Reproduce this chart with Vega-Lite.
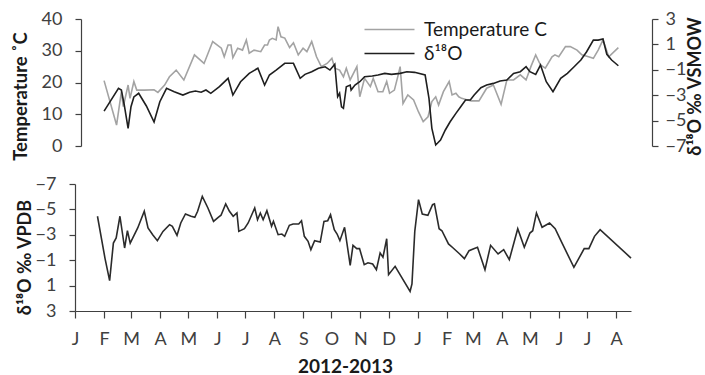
{
  "$schema": "https://vega.github.io/schema/vega-lite/v6.json",
  "autosize": "none",
  "width": 577,
  "height": 292,
  "padding": {"left": 75, "top": 19, "right": 53, "bottom": 64},
  "config": {
    "font": "Lato",
    "view": {"stroke": null},
    "axis": {
      "grid": false,
      "domainColor": "#404040",
      "tickColor": "#404040",
      "domainWidth": 1.2,
      "tickWidth": 1.2,
      "labelColor": "#404040",
      "labelFont": "Lato",
      "labelFontSize": 18,
      "titleFont": "Lato",
      "titleFontSize": 18,
      "titleFontWeight": "bold",
      "titleColor": "#1a1a1a"
    },
    "legend": {
      "orient": "none",
      "legendX": 305,
      "legendY": 1,
      "padding": 0,
      "symbolType": "M-5,0H5",
      "symbolSize": 100,
      "symbolStrokeWidth": 1.6,
      "labelFont": "Lato",
      "labelFontSize": 19,
      "labelColor": "#1a1a1a",
      "labelOffset": 25,
      "rowPadding": 4
    }
  },
  "datasets": {
    "temperature": [
      {"date": "2012-01-25", "value": 20.6}, {"date": "2012-02-07", "value": 6.6},
      {"date": "2012-02-12", "value": 17.1}, {"date": "2012-02-14", "value": 12.4},
      {"date": "2012-02-19", "value": 19.2}, {"date": "2012-02-21", "value": 15.0},
      {"date": "2012-02-25", "value": 20.3}, {"date": "2012-02-28", "value": 17.6},
      {"date": "2012-03-07", "value": 17.6}, {"date": "2012-03-17", "value": 17.7},
      {"date": "2012-03-21", "value": 16.9}, {"date": "2012-03-28", "value": 19.2},
      {"date": "2012-04-02", "value": 21.8}, {"date": "2012-04-09", "value": 23.9},
      {"date": "2012-04-17", "value": 20.8}, {"date": "2012-04-28", "value": 28.7},
      {"date": "2012-05-08", "value": 26.0}, {"date": "2012-05-17", "value": 32.9},
      {"date": "2012-05-26", "value": 30.8}, {"date": "2012-05-29", "value": 28.1},
      {"date": "2012-06-02", "value": 31.8}, {"date": "2012-06-05", "value": 31.8},
      {"date": "2012-06-07", "value": 27.8}, {"date": "2012-06-12", "value": 30.8},
      {"date": "2012-06-17", "value": 30.2}, {"date": "2012-06-21", "value": 33.4},
      {"date": "2012-06-24", "value": 29.2}, {"date": "2012-06-29", "value": 30.2},
      {"date": "2012-07-06", "value": 29.7}, {"date": "2012-07-10", "value": 31.8},
      {"date": "2012-07-13", "value": 31.8}, {"date": "2012-07-15", "value": 33.4},
      {"date": "2012-07-18", "value": 33.9}, {"date": "2012-07-22", "value": 33.4},
      {"date": "2012-07-24", "value": 37.6}, {"date": "2012-07-27", "value": 34.4},
      {"date": "2012-07-31", "value": 34.0}, {"date": "2012-08-05", "value": 31.0},
      {"date": "2012-08-09", "value": 32.5}, {"date": "2012-08-14", "value": 28.7},
      {"date": "2012-08-19", "value": 30.8}, {"date": "2012-08-23", "value": 29.7},
      {"date": "2012-08-28", "value": 32.9}, {"date": "2012-09-02", "value": 28.1},
      {"date": "2012-09-07", "value": 25.0}, {"date": "2012-09-13", "value": 26.0},
      {"date": "2012-09-18", "value": 27.6}, {"date": "2012-09-21", "value": 24.5},
      {"date": "2012-09-26", "value": 23.9}, {"date": "2012-09-30", "value": 21.8},
      {"date": "2012-10-03", "value": 24.5}, {"date": "2012-10-07", "value": 20.8},
      {"date": "2012-10-14", "value": 25.0}, {"date": "2012-10-17", "value": 15.5},
      {"date": "2012-10-22", "value": 21.3}, {"date": "2012-10-28", "value": 18.7},
      {"date": "2012-10-31", "value": 21.3}, {"date": "2012-11-05", "value": 17.1},
      {"date": "2012-11-10", "value": 17.1}, {"date": "2012-11-14", "value": 20.3},
      {"date": "2012-11-17", "value": 16.6}, {"date": "2012-11-22", "value": 17.6},
      {"date": "2012-11-26", "value": 22.4}, {"date": "2012-11-28", "value": 25.0},
      {"date": "2012-12-01", "value": 13.4}, {"date": "2012-12-06", "value": 16.1},
      {"date": "2012-12-12", "value": 14.5}, {"date": "2012-12-17", "value": 10.8},
      {"date": "2012-12-22", "value": 7.7}, {"date": "2012-12-27", "value": 9.2},
      {"date": "2012-12-31", "value": 14.0}, {"date": "2013-01-04", "value": 15.5},
      {"date": "2013-01-07", "value": 12.9}, {"date": "2013-01-12", "value": 17.1},
      {"date": "2013-01-18", "value": 20.3}, {"date": "2013-01-21", "value": 16.1},
      {"date": "2013-01-25", "value": 16.6}, {"date": "2013-01-28", "value": 15.5},
      {"date": "2013-01-31", "value": 15.0}, {"date": "2013-02-06", "value": 14.5},
      {"date": "2013-02-10", "value": 14.2}, {"date": "2013-02-18", "value": 14.2},
      {"date": "2013-02-26", "value": 18.2}, {"date": "2013-03-05", "value": 19.2},
      {"date": "2013-03-13", "value": 13.1}, {"date": "2013-03-19", "value": 20.8},
      {"date": "2013-03-26", "value": 20.8}, {"date": "2013-04-02", "value": 22.4},
      {"date": "2013-04-08", "value": 20.8}, {"date": "2013-04-13", "value": 25.0},
      {"date": "2013-04-18", "value": 28.7}, {"date": "2013-04-23", "value": 25.5},
      {"date": "2013-04-28", "value": 24.5}, {"date": "2013-05-05", "value": 28.1},
      {"date": "2013-05-08", "value": 28.7}, {"date": "2013-05-12", "value": 28.1},
      {"date": "2013-05-19", "value": 31.3}, {"date": "2013-05-24", "value": 31.3},
      {"date": "2013-05-31", "value": 30.2}, {"date": "2013-06-05", "value": 28.7},
      {"date": "2013-06-12", "value": 28.1}, {"date": "2013-06-17", "value": 27.6},
      {"date": "2013-06-22", "value": 30.2}, {"date": "2013-06-27", "value": 33.4},
      {"date": "2013-07-03", "value": 28.1}, {"date": "2013-07-13", "value": 31.0}
    ],
    "vsmow": [
      {"date": "2012-01-25", "value": -4.25}, {"date": "2012-02-09", "value": -2.46},
      {"date": "2012-02-12", "value": -2.59}, {"date": "2012-02-15", "value": -3.77},
      {"date": "2012-02-19", "value": -5.61}, {"date": "2012-02-22", "value": -3.91},
      {"date": "2012-02-25", "value": -3.14}, {"date": "2012-03-01", "value": -2.85},
      {"date": "2012-03-09", "value": -3.85}, {"date": "2012-03-17", "value": -5.11},
      {"date": "2012-03-23", "value": -3.51}, {"date": "2012-03-30", "value": -2.46},
      {"date": "2012-04-07", "value": -2.73}, {"date": "2012-04-16", "value": -2.99},
      {"date": "2012-04-23", "value": -2.77}, {"date": "2012-04-29", "value": -2.67},
      {"date": "2012-05-05", "value": -2.77}, {"date": "2012-05-10", "value": -2.59},
      {"date": "2012-05-15", "value": -2.85}, {"date": "2012-05-24", "value": -2.33},
      {"date": "2012-06-02", "value": -1.67}, {"date": "2012-06-07", "value": -2.99},
      {"date": "2012-06-15", "value": -1.94}, {"date": "2012-06-24", "value": -1.28},
      {"date": "2012-07-03", "value": -0.88}, {"date": "2012-07-10", "value": -2.2},
      {"date": "2012-07-15", "value": -1.41}, {"date": "2012-07-22", "value": -1.02},
      {"date": "2012-07-31", "value": -0.49}, {"date": "2012-08-09", "value": -0.49},
      {"date": "2012-08-16", "value": -1.67}, {"date": "2012-08-21", "value": -1.36},
      {"date": "2012-08-28", "value": -1.15}, {"date": "2012-09-04", "value": -0.88},
      {"date": "2012-09-11", "value": -0.76}, {"date": "2012-09-16", "value": -1.02},
      {"date": "2012-09-21", "value": -0.57}, {"date": "2012-09-24", "value": -3.12},
      {"date": "2012-09-26", "value": -2.85}, {"date": "2012-09-28", "value": -3.91},
      {"date": "2012-09-30", "value": -4.03}, {"date": "2012-10-03", "value": -2.33},
      {"date": "2012-10-07", "value": -2.2}, {"date": "2012-10-08", "value": -2.59},
      {"date": "2012-10-12", "value": -2.2}, {"date": "2012-10-17", "value": -1.94},
      {"date": "2012-10-22", "value": -1.55}, {"date": "2012-10-30", "value": -1.49},
      {"date": "2012-11-05", "value": -1.41}, {"date": "2012-11-12", "value": -1.28},
      {"date": "2012-11-19", "value": -1.36}, {"date": "2012-11-28", "value": -1.28},
      {"date": "2012-12-05", "value": -1.15}, {"date": "2012-12-13", "value": -1.2},
      {"date": "2012-12-24", "value": -1.41}, {"date": "2012-12-28", "value": -3.25},
      {"date": "2012-12-31", "value": -5.61}, {"date": "2013-01-04", "value": -6.92},
      {"date": "2013-01-09", "value": -6.53}, {"date": "2013-01-14", "value": -5.74},
      {"date": "2013-01-19", "value": -5.09}, {"date": "2013-01-25", "value": -4.43},
      {"date": "2013-01-30", "value": -3.91}, {"date": "2013-02-04", "value": -3.38},
      {"date": "2013-02-09", "value": -3.38}, {"date": "2013-02-13", "value": -2.99},
      {"date": "2013-02-20", "value": -2.41}, {"date": "2013-02-26", "value": -2.2},
      {"date": "2013-03-05", "value": -2.07}, {"date": "2013-03-12", "value": -1.88},
      {"date": "2013-03-19", "value": -1.81}, {"date": "2013-03-26", "value": -1.28},
      {"date": "2013-04-02", "value": -1.15}, {"date": "2013-04-08", "value": -0.76},
      {"date": "2013-04-12", "value": -1.15}, {"date": "2013-04-18", "value": -1.36},
      {"date": "2013-04-23", "value": -0.63}, {"date": "2013-04-29", "value": -1.94},
      {"date": "2013-05-06", "value": -2.73}, {"date": "2013-05-14", "value": -1.67},
      {"date": "2013-05-21", "value": -1.28}, {"date": "2013-05-28", "value": -0.76},
      {"date": "2013-06-04", "value": -0.23}, {"date": "2013-06-10", "value": 0.42},
      {"date": "2013-06-17", "value": 1.34}, {"date": "2013-06-22", "value": 1.34},
      {"date": "2013-06-27", "value": 1.42}, {"date": "2013-07-01", "value": 0.22},
      {"date": "2013-07-06", "value": -0.23}, {"date": "2013-07-13", "value": -0.68}
    ],
    "vpdb": [
      {"date": "2012-01-25", "value": -4.46}, {"date": "2012-02-02", "value": -1.17},
      {"date": "2012-02-07", "value": 0.61}, {"date": "2012-02-11", "value": -2.35},
      {"date": "2012-02-14", "value": -2.75}, {"date": "2012-02-18", "value": -4.46},
      {"date": "2012-02-23", "value": -1.96}, {"date": "2012-02-26", "value": -3.32},
      {"date": "2012-02-29", "value": -2.35}, {"date": "2012-03-08", "value": -3.54},
      {"date": "2012-03-15", "value": -4.85}, {"date": "2012-03-19", "value": -3.54},
      {"date": "2012-03-24", "value": -3.01}, {"date": "2012-03-29", "value": -2.54},
      {"date": "2012-04-04", "value": -3.27}, {"date": "2012-04-11", "value": -3.8},
      {"date": "2012-04-14", "value": -3.67}, {"date": "2012-04-19", "value": -2.96},
      {"date": "2012-04-23", "value": -3.93}, {"date": "2012-04-28", "value": -4.64},
      {"date": "2012-05-04", "value": -4.46}, {"date": "2012-05-08", "value": -4.38},
      {"date": "2012-05-11", "value": -4.85}, {"date": "2012-05-16", "value": -6.03},
      {"date": "2012-05-22", "value": -5.11}, {"date": "2012-05-28", "value": -4.06},
      {"date": "2012-06-02", "value": -4.38}, {"date": "2012-06-05", "value": -4.54},
      {"date": "2012-06-10", "value": -5.43}, {"date": "2012-06-14", "value": -4.85},
      {"date": "2012-06-18", "value": -4.46}, {"date": "2012-06-22", "value": -4.72},
      {"date": "2012-06-24", "value": -3.27}, {"date": "2012-06-30", "value": -3.48},
      {"date": "2012-07-04", "value": -3.93}, {"date": "2012-07-11", "value": -5.11},
      {"date": "2012-07-14", "value": -4.19}, {"date": "2012-07-17", "value": -4.72},
      {"date": "2012-07-20", "value": -4.19}, {"date": "2012-07-24", "value": -4.9},
      {"date": "2012-07-29", "value": -3.67}, {"date": "2012-07-31", "value": -4.06},
      {"date": "2012-08-05", "value": -3.01}, {"date": "2012-08-09", "value": -3.06},
      {"date": "2012-08-12", "value": -2.88}, {"date": "2012-08-17", "value": -3.75},
      {"date": "2012-08-21", "value": -3.85}, {"date": "2012-08-27", "value": -3.85},
      {"date": "2012-08-30", "value": -4.11}, {"date": "2012-09-02", "value": -2.88},
      {"date": "2012-09-06", "value": -2.49}, {"date": "2012-09-09", "value": -1.83},
      {"date": "2012-09-13", "value": -2.54}, {"date": "2012-09-19", "value": -2.43},
      {"date": "2012-09-23", "value": -4.06}, {"date": "2012-09-27", "value": -4.11},
      {"date": "2012-09-30", "value": -4.58}, {"date": "2012-10-04", "value": -3.4},
      {"date": "2012-10-07", "value": -3.06}, {"date": "2012-10-10", "value": -2.54},
      {"date": "2012-10-15", "value": -3.59}, {"date": "2012-10-21", "value": -0.6},
      {"date": "2012-10-24", "value": -2.17}, {"date": "2012-10-28", "value": -1.91},
      {"date": "2012-10-31", "value": -1.91}, {"date": "2012-11-05", "value": -0.65},
      {"date": "2012-11-09", "value": -0.8}, {"date": "2012-11-14", "value": -0.7},
      {"date": "2012-11-18", "value": -0.25}, {"date": "2012-11-22", "value": -1.57},
      {"date": "2012-11-25", "value": -1.23}, {"date": "2012-11-29", "value": -2.69},
      {"date": "2012-12-01", "value": 0.14}, {"date": "2012-12-08", "value": -0.52},
      {"date": "2012-12-24", "value": 1.45}, {"date": "2012-12-26", "value": 0.87},
      {"date": "2012-12-29", "value": -3.27}, {"date": "2013-01-02", "value": -5.77},
      {"date": "2013-01-06", "value": -4.64}, {"date": "2013-01-12", "value": -4.54},
      {"date": "2013-01-17", "value": -5.37}, {"date": "2013-01-19", "value": -5.43},
      {"date": "2013-01-24", "value": -3.48}, {"date": "2013-01-27", "value": -3.32},
      {"date": "2013-02-03", "value": -2.28}, {"date": "2013-02-08", "value": -1.96},
      {"date": "2013-02-15", "value": -1.49}, {"date": "2013-02-20", "value": -1.12},
      {"date": "2013-02-25", "value": -1.75}, {"date": "2013-03-02", "value": -1.91},
      {"date": "2013-03-06", "value": -2.02}, {"date": "2013-03-14", "value": -0.25},
      {"date": "2013-03-20", "value": -2.17}, {"date": "2013-03-28", "value": -1.49},
      {"date": "2013-04-03", "value": -1.83}, {"date": "2013-04-09", "value": -1.04},
      {"date": "2013-04-18", "value": -3.48}, {"date": "2013-04-25", "value": -2.02},
      {"date": "2013-05-01", "value": -3.14}, {"date": "2013-05-04", "value": -3.32},
      {"date": "2013-05-08", "value": -4.72}, {"date": "2013-05-14", "value": -3.59},
      {"date": "2013-05-22", "value": -3.93}, {"date": "2013-05-28", "value": -3.48},
      {"date": "2013-06-04", "value": -2.4}, {"date": "2013-06-17", "value": -0.44},
      {"date": "2013-06-28", "value": -1.91}, {"date": "2013-07-03", "value": -1.91},
      {"date": "2013-07-09", "value": -2.88}, {"date": "2013-07-15", "value": -3.4},
      {"date": "2013-08-17", "value": -1.17}
    ]
  },
  "layer": [
    {
      "data": {"name": "temperature"},
      "mark": {"type": "line", "color": "#a3a3a3", "strokeWidth": 1.6},
      "encoding": {
        "x": {
          "field": "date", "type": "temporal",
          "scale": {"type": "utc", "domain": [{"year": 2012, "month": 1, "date": 1, "utc": true}, {"year": 2013, "month": 8, "date": 17, "utc": true}], "range": [6, 577]},
          "axis": null
        },
        "y": {
          "field": "value", "type": "quantitative",
          "scale": {"domain": [0, 40], "range": [127, 0], "nice": false, "zero": false},
          "axis": {
            "orient": "left", "offset": -6, "values": [0, 10, 20, 30, 40],
            "title": "Temperature ˚C", "titleFontSize": 18.5, "titleAngle": 270, "titleX": -61, "titleY": 77,
            "titleAlign": "center", "titleBaseline": "middle",
            "tickSize": 6, "labelPadding": 13
          }
        },
        "color": {
          "datum": "Temperature C",
          "scale": {"domain": ["Temperature C", "δ¹⁸O"], "range": ["#a3a3a3", "#1f1f1f"]},
          "legend": {"title": null}
        }
      }
    },
    {
      "data": {"name": "vsmow"},
      "mark": {"type": "line", "color": "#1f1f1f", "strokeWidth": 1.6},
      "encoding": {
        "x": {
          "field": "date", "type": "temporal",
          "scale": {"type": "utc", "domain": [{"year": 2012, "month": 1, "date": 1, "utc": true}, {"year": 2013, "month": 8, "date": 17, "utc": true}], "range": [6, 577]},
          "axis": null
        },
        "y": {
          "field": "value", "type": "quantitative",
          "scale": {"domain": [-7, 3], "range": [127, 0], "nice": false, "zero": false},
          "axis": {
            "orient": "right", "values": [-7, -5, -3, -1, 1, 3],
            "title": "δ¹⁸O ‰ VSMOW", "titleAngle": 270, "titleX": 43, "titleY": 67,
            "titleAlign": "center", "titleBaseline": "middle",
            "tickSize": 6, "labelPadding": 7
          }
        },
        "color": {"datum": "δ¹⁸O"}
      }
    },
    {
      "mark": {"type": "text", "fontWeight": "bold", "fontSize": 20, "color": "#1a1a1a", "align": "center", "baseline": "middle"},
      "encoding": {
        "x": {
          "datum": {"year": 2012, "month": 2, "date": 2, "utc": true}, "type": "temporal",
          "scale": {"type": "utc", "domain": [{"year": 2012, "month": 1, "date": 1, "utc": true}, {"year": 2013, "month": 8, "date": 17, "utc": true}], "range": [6, 577]},
          "axis": null
        },
        "y": {
          "datum": 32.8, "type": "quantitative",
          "scale": {"domain": [0, 40], "range": [127, 0], "nice": false, "zero": false},
          "axis": null
        },
        "text": {"value": "A"}
      }
    },
    {
      "data": {"name": "vpdb"},
      "mark": {"type": "line", "color": "#2b2b2b", "strokeWidth": 1.6},
      "encoding": {
        "x": {
          "field": "date", "type": "temporal",
          "scale": {"type": "utc", "domain": [{"year": 2012, "month": 1, "date": 1, "utc": true}, {"year": 2013, "month": 8, "date": 17, "utc": true}], "range": [0, 556]},
          "axis": {
            "orient": "bottom",
            "tickCount": {"interval": "month", "step": 1},
            "labelExpr": "substring(utcFormat(datum.value, '%b'), 0, 1)",
            "labelOverlap": false, "labelFlush": false,
            "title": "2012-2013", "titleFontSize": 19, "titleX": 270, "titleY": 55,
            "titleAlign": "center", "titleBaseline": "middle",
            "tickSize": 7, "labelPadding": 12
          }
        },
        "y": {
          "field": "value", "type": "quantitative",
          "scale": {"domain": [-7, 3], "range": [165, 292], "nice": false, "zero": false},
          "axis": {
            "orient": "left", "values": [-7, -5, -3, -1, 1, 3],
            "title": "δ¹⁸O ‰ VPDB", "titleAngle": 270, "titleX": -50, "titleY": 238,
            "titleAlign": "center", "titleBaseline": "middle",
            "tickSize": 6, "labelPadding": 13
          }
        }
      }
    },
    {
      "mark": {"type": "text", "fontWeight": "bold", "fontSize": 20, "color": "#1a1a1a", "align": "center", "baseline": "middle"},
      "encoding": {
        "x": {
          "datum": {"year": 2012, "month": 1, "date": 31, "utc": true}, "type": "temporal",
          "scale": {"type": "utc", "domain": [{"year": 2012, "month": 1, "date": 1, "utc": true}, {"year": 2013, "month": 8, "date": 17, "utc": true}], "range": [0, 556]},
          "axis": null
        },
        "y": {
          "datum": -5.6, "type": "quantitative",
          "scale": {"domain": [-7, 3], "range": [165, 292], "nice": false, "zero": false},
          "axis": null
        },
        "text": {"value": "B"}
      }
    }
  ],
  "resolve": {
    "scale": {"x": "independent", "y": "independent"},
    "axis": {"x": "independent", "y": "independent"}
  }
}
